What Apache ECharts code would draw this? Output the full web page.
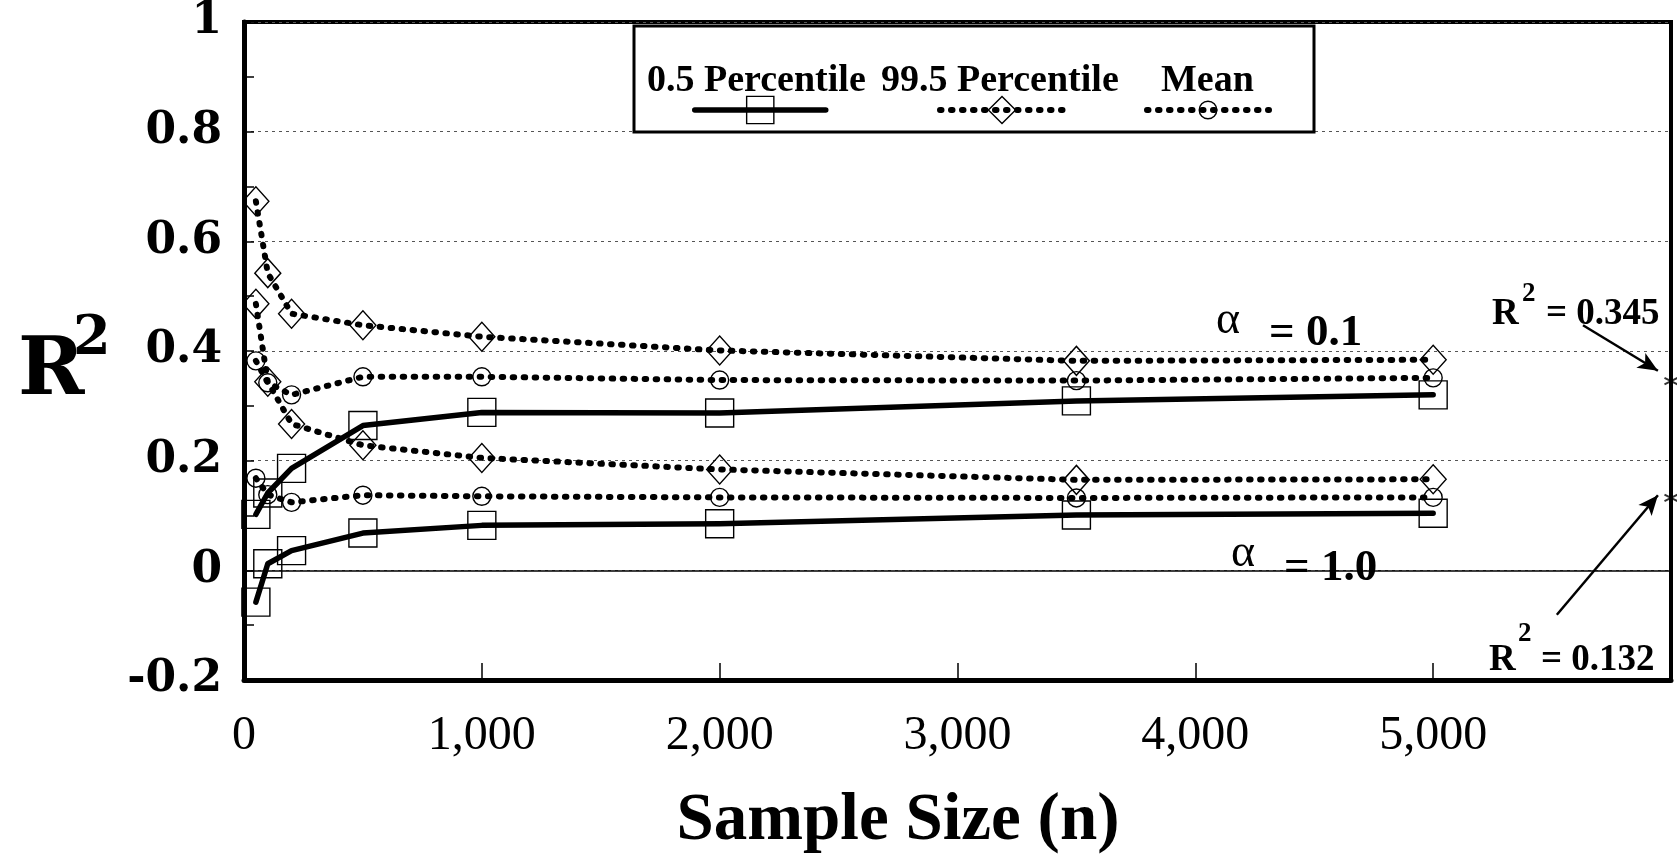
<!DOCTYPE html>
<html>
<head>
<meta charset="utf-8">
<script src="https://cdn.jsdelivr.net/npm/echarts@6/dist/echarts.min.js"></script>
<style>
  html, body { margin: 0; padding: 0; background: #fff; }
  #chart { width: 1677px; height: 860px; }
</style>
</head>
<body>
<div id="chart"></div>
<script>
// Sample sizes (n) at which R^2 was simulated
const sampleSizes = [50, 100, 200, 500, 1000, 2000, 3500, 5000];

// alpha = 0.1
const p005Alpha01 = [0.102, 0.141, 0.186, 0.264, 0.288, 0.287, 0.309, 0.320];
const p995Alpha01 = [0.673, 0.542, 0.468, 0.447, 0.426, 0.401, 0.382, 0.384];
const meanAlpha01 = [0.382, 0.342, 0.320, 0.353, 0.353, 0.347, 0.346, 0.351];

// alpha = 1.0
const p005Alpha10 = [-0.058, 0.012, 0.036, 0.068, 0.082, 0.085, 0.101, 0.104];
const p995Alpha10 = [0.486, 0.344, 0.267, 0.228, 0.205, 0.184, 0.165, 0.166];
const meanAlpha10 = [0.168, 0.138, 0.124, 0.137, 0.135, 0.133, 0.132, 0.133];

// Population R^2 for each alpha, marked on the right edge
const populationR2 = [0.345, 0.132];
const populationX = 6000;

// Axis tick labels
const xTickValues = [0, 1000, 2000, 3000, 4000, 5000];
const xTickLabels = ['0', '1,000', '2,000', '3,000', '4,000', '5,000'];

const seriesNames = ['0.5 Percentile', '99.5 Percentile', 'Mean'];

const zip = (xs, ys) => xs.map((x, i) => [x, ys[i]]);

const SERIF = '"Liberation Serif", "Times New Roman", serif';
const WIDE_SERIF = '"DejaVu Serif", serif';

const markerStyle = { color: 'rgba(0,0,0,0)', borderColor: '#000', borderWidth: 1.4 };
const solidLine = { color: '#000', width: 5.5, type: 'solid', cap: 'round', join: 'round' };
const dottedLine = { color: '#000', width: 6, type: [1.5, 9.5], cap: 'round', join: 'round' };

function lineSeries(name, values, symbol, symbolSize, lineStyle) {
  return {
    name: name,
    type: 'line',
    data: zip(sampleSizes, values),
    symbol: symbol,
    symbolSize: symbolSize,
    showAllSymbol: true,
    itemStyle: markerStyle,
    lineStyle: lineStyle,
    emphasis: { disabled: true },
    animation: false,
    z: 3
  };
}

const series = [
  lineSeries(seriesNames[0], p005Alpha01, 'rect', 28, solidLine),
  lineSeries(seriesNames[1], p995Alpha01, 'diamond', [26, 29], dottedLine),
  lineSeries(seriesNames[2], meanAlpha01, 'circle', 18, dottedLine),
  lineSeries(seriesNames[0], p005Alpha10, 'rect', 28, solidLine),
  lineSeries(seriesNames[1], p995Alpha10, 'diamond', [26, 29], dottedLine),
  lineSeries(seriesNames[2], meanAlpha10, 'circle', 18, dottedLine),
  {
    // population values with pointer arrows
    name: 'population',
    type: 'scatter',
    data: populationR2.map(v => [populationX, v]),
    symbol: 'path://M0,-10L0,10M-8.7,-5L8.7,5M-8.7,5L8.7,-5',
    symbolSize: 13,
    itemStyle: { color: '#000', borderColor: '#000', borderWidth: 2 },
    clip: false,
    silent: true,
    animation: false,
    z: 4,
    markLine: {
      silent: true,
      symbol: ['none', 'arrow'],
      symbolSize: [13, 20],
      label: { show: false },
      lineStyle: { color: '#000', width: 2.5, type: 'solid' },
      data: [
        [{ coord: [5630, 0.447] }, { coord: [5945, 0.364] }],
        [{ coord: [5520, -0.081] }, { coord: [5945, 0.137] }]
      ],
      animation: false
    }
  },
  {
    // thin solid reference line at R^2 = 0
    name: 'zero',
    type: 'line',
    data: [],
    silent: true,
    animation: false,
    markLine: {
      silent: true,
      symbol: ['none', 'none'],
      label: { show: false },
      lineStyle: { color: '#000', width: 1.5, type: 'solid' },
      data: [{ yAxis: 0 }],
      animation: false
    }
  }
];

function legendFor(name, left, top, width, height, lineStyle) {
  return {
    data: [name],
    left: left,
    top: top,
    padding: 0,
    itemWidth: width,
    itemHeight: height,
    selectedMode: false,
    formatter: () => '',
    itemStyle: { color: 'rgba(0,0,0,0)', borderColor: '#000', borderWidth: 1.4 },
    lineStyle: lineStyle
  };
}

function txt(text, x, y, font) {
  return {
    type: 'text',
    x: x,
    y: y,
    silent: true,
    z: 10,
    style: {
      text: text,
      font: font,
      fill: '#000',
      align: 'left',
      verticalAlign: 'middle',
      textAlign: 'left',
      textVerticalAlign: 'middle'
    }
  };
}

const legendFont = 'bold 38px ' + SERIF;
const annoFont = 'bold 37px ' + SERIF;
const supFont = 'bold 27px ' + SERIF;
const alphaFont = '46px ' + SERIF;
const alphaValueFont = 'bold 45px ' + SERIF;

const option = {
  backgroundColor: '#fff',
  animation: false,
  grid: {
    left: 244, right: 6, top: 20, bottom: 174,
    show: true, borderColor: '#000', borderWidth: 4, backgroundColor: 'transparent'
  },
  legend: [
    legendFor(seriesNames[0], 692, 93, 131, 34, solidLine),
    legendFor(seriesNames[1], 937, 93, 124, 34, dottedLine),
    legendFor(seriesNames[2], 1144, 99, 122, 22, dottedLine)
  ],
  xAxis: {
    type: 'value',
    min: 0,
    max: 6000,
    interval: 1000,
    name: 'Sample Size (n)',
    nameLocation: 'middle',
    nameGap: 108,
    nameTextStyle: {
      fontFamily: SERIF, fontWeight: 'bold', fontSize: 67, color: '#000',
      padding: [0, 119, 0, 0]
    },
    axisLine: { show: true, onZero: false, lineStyle: { color: '#000', width: 5 } },
    axisTick: { show: true, inside: true, length: 17, lineStyle: { color: '#000', width: 1.5 } },
    axisLabel: {
      margin: 32,
      fontFamily: SERIF, fontSize: 48, color: '#000',
      formatter: v => {
        const i = xTickValues.indexOf(v);
        return i >= 0 ? xTickLabels[i] : '';
      }
    },
    splitLine: { show: false }
  },
  yAxis: {
    type: 'value',
    min: -0.2,
    max: 1,
    interval: 0.2,
    axisLine: { show: true, onZero: false, lineStyle: { color: '#000', width: 5 } },
    axisTick: { show: true, inside: true, length: 10, lineStyle: { color: '#000', width: 1.5 } },
    minorTick: { show: true, splitNumber: 2, length: 10, lineStyle: { color: '#000', width: 1.5 } },
    axisLabel: {
      margin: 22,
      fontFamily: WIDE_SERIF, fontWeight: 'bold', fontSize: 44, color: '#000'
    },
    splitLine: { show: true, lineStyle: { color: '#555', width: 1, type: [3, 4] } }
  },
  series: series,
  graphic: [
    // legend frame
    {
      type: 'rect', silent: true, z: 1,
      shape: { x: 634, y: 26, width: 680, height: 106 },
      style: { fill: '#fff', stroke: '#000', lineWidth: 3 }
    },
    txt(seriesNames[0], 647, 81, legendFont),
    txt(seriesNames[1], 881, 81, legendFont),
    txt(seriesNames[2], 1161, 81, legendFont),

    // y-axis title
    txt('R', 18, 373, 'bold 80px ' + WIDE_SERIF),
    txt('2', 73, 340, 'bold 54px ' + WIDE_SERIF),

    // alpha labels for the two curve groups
    txt('\u03b1', 1216, 321, alphaFont),
    txt('= 0.1', 1269, 333, alphaValueFont),
    txt('\u03b1', 1231, 554, alphaFont),
    txt('= 1.0', 1284, 568, alphaValueFont),

    // population R^2 annotations
    txt('R', 1492, 314, annoFont),
    txt('2', 1522, 294, supFont),
    txt('= 0.345', 1546, 314, annoFont),
    txt('R', 1489, 660, annoFont),
    txt('2', 1518, 634, supFont),
    txt('= 0.132', 1541, 660, annoFont)
  ]
};

const chart = echarts.init(document.getElementById('chart'), null, { renderer: 'canvas' });
chart.setOption(option);
</script>
</body>
</html>
